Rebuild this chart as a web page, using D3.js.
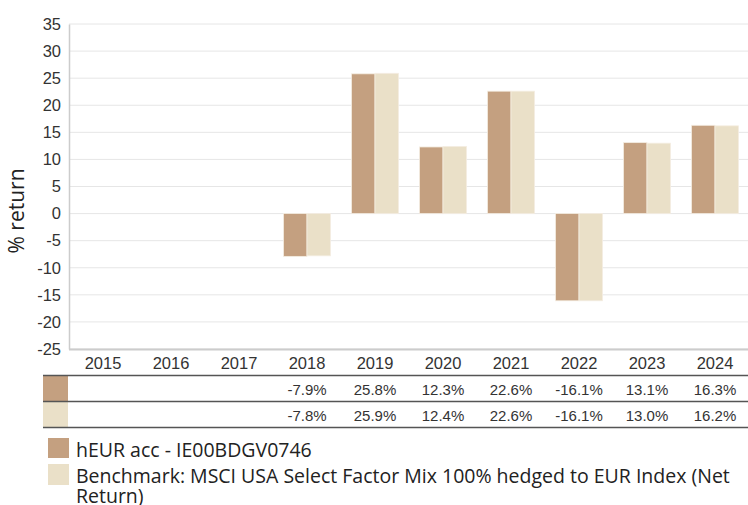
<!DOCTYPE html>
<html>
<head>
<meta charset="utf-8">
<script src="https://cdn.jsdelivr.net/npm/d3@7"></script>
<style>
  body { margin: 0; background: #fff; }
  svg { display: block; }
</style>
</head>
<body>
<div id="chart"></div>
<script>
var years = ['2015', '2016', '2017', '2018', '2019', '2020', '2021', '2022', '2023', '2024']
var fundValues = [null, null, null, -7.9, 25.8, 12.3, 22.6, -16.1, 13.1, 16.3]
var benchValues = [null, null, null, -7.8, 25.9, 12.4, 22.6, -16.1, 13.0, 16.2]
var yTicks = [35, 30, 25, 20, 15, 10, 5, 0, -5, -10, -15, -20, -25]
var seriesNames = ['hEUR acc - IE00BDGV0746', 'Benchmark: MSCI USA Select Factor Mix 100% hedged to EUR Index (Net', 'Return)']

var FUND = '#c4a080', BENCH = '#eae0c8'
var W = 748, H = 505

var svg = d3.select('#chart').append('svg').attr('width', W).attr('height', H)

var x = d3.scaleBand().domain(years).range([69, 749]).paddingInner(0).paddingOuter(0)
var y = d3.scaleLinear().domain([-25, 35]).range([349, 24])
var barW = 23.5

// grid
svg.append('g').selectAll('line').data(yTicks).join('line')
  .attr('x1', 69).attr('x2', 749)
  .attr('y1', function (d) { return y(d) }).attr('y2', function (d) { return y(d) })
  .attr('stroke', '#e6e6e6').attr('stroke-width', 1)

// y axis (plain hyphen for negatives)
var yAxis = d3.axisLeft(y).tickValues(yTicks).tickSize(0).tickPadding(8)
  .tickFormat(function (d) { return String(d) })
var ga = svg.append('g').attr('transform', 'translate(69,0)').call(yAxis)
ga.select('.domain').attr('stroke', '#ccc').attr('stroke-width', 1.5)
ga.selectAll('text').attr('font-family', 'Liberation Sans, Arial, sans-serif')
  .attr('font-size', 16.5).attr('fill', '#333')

// bottom axis line
svg.append('line').attr('x1', 69).attr('x2', 749).attr('y1', 349.5).attr('y2', 349.5)
  .attr('stroke', '#ccc').attr('stroke-width', 2)

// bars
function drawBars(vals, color, offset) {
  svg.append('g').selectAll('rect')
    .data(vals.map(function (v, i) { return { v: v, yr: years[i] } }).filter(function (d) { return d.v !== null }))
    .join('rect')
    .attr('x', function (d) { return x(d.yr) + x.bandwidth() / 2 + offset })
    .attr('width', barW)
    .attr('y', function (d) { return Math.min(y(d.v), y(0)) })
    .attr('height', function (d) { return Math.abs(y(d.v) - y(0)) })
    .attr('fill', color)
    .attr('stroke', '#f4ede2').attr('stroke-width', 0.8)
}
drawBars(fundValues, FUND, -barW)
drawBars(benchValues, BENCH, 0)

// y label
svg.append('text')
  .attr('transform', 'translate(24,211) rotate(-90)')
  .attr('text-anchor', 'middle')
  .attr('font-family', 'Open Sans, sans-serif').attr('font-size', 21).attr('fill', '#222')
  .text('% return')

// x labels
svg.append('g').selectAll('text').data(years).join('text')
  .attr('x', function (d) { return x(d) + x.bandwidth() / 2 })
  .attr('y', 369)
  .attr('text-anchor', 'middle')
  .attr('font-family', 'Liberation Sans, Arial, sans-serif').attr('font-size', 16.5).attr('fill', '#333')
  .text(function (d) { return d })

// table
var rows = [{ vals: fundValues, color: FUND, y0: 375.5 }, { vals: benchValues, color: BENCH, y0: 401.5 }]
rows.forEach(function (r) {
  svg.append('rect').attr('x', 43).attr('y', r.y0).attr('width', 25).attr('height', 26).attr('fill', r.color)
  svg.append('g').selectAll('text').data(r.vals.map(function (v, i) { return { v: v, yr: years[i] } }).filter(function (d) { return d.v !== null }))
    .join('text')
    .attr('x', function (d) { return x(d.yr) + x.bandwidth() / 2 })
    .attr('y', r.y0 + 19)
    .attr('text-anchor', 'middle')
    .attr('font-family', 'Liberation Sans, Arial, sans-serif').attr('font-size', 15).attr('fill', '#333')
    .text(function (d) { return d.v.toFixed(1) + '%' })
})
;[375.5, 401.5, 427.5].forEach(function (ly) {
  svg.append('line').attr('x1', 43).attr('x2', 749).attr('y1', ly).attr('y2', ly)
    .attr('stroke', '#555').attr('stroke-width', 1.5)
})

// legend
svg.append('rect').attr('x', 48).attr('y', 438).attr('width', 21).attr('height', 20).attr('fill', FUND)
svg.append('rect').attr('x', 48).attr('y', 464).attr('width', 21).attr('height', 21).attr('fill', BENCH)
var legendY = [457, 483, 503]
seriesNames.forEach(function (t, i) {
  svg.append('text').attr('x', 76).attr('y', legendY[i])
    .attr('font-family', 'Open Sans, sans-serif').attr('font-size', 19.5).attr('fill', '#222')
    .text(t)
})
</script>
</body>
</html>
